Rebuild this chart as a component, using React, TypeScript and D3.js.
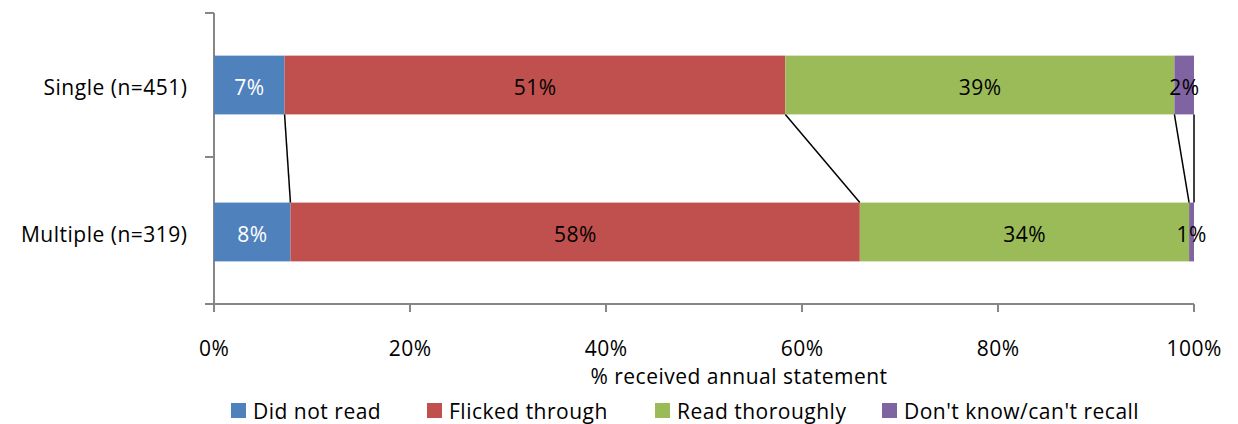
import React from "react";
import * as d3 from "d3";

const categories = ["Single (n=451)", "Multiple (n=319)"];
const seriesNames = ["Did not read", "Flicked through", "Read thoroughly", "Don't know/can't recall"];
const seriesColors = ["#4f81bd", "#c0504d", "#9bbb59", "#8064a2"];
const single = [7.2, 51.1, 39.7, 2.0];
const multiple = [7.8, 58.1, 33.6, 0.5];
const singleLabels = ["7%", "51%", "39%", "2%"];
const multipleLabels = ["8%", "58%", "34%", "1%"];
const xTicks = [0, 20, 40, 60, 80, 100];
const xTitle = "% received annual statement";

const W = 1238, H = 424;
const FONT = "'Open Sans', Lato, sans-serif";
const FS = 21;
const LS = 0.5;

export default function App() {
  const x = d3.scaleLinear().domain([0, 100]).range([214, 1194]);
  const y = d3.scaleBand().domain(categories).range([13, 304]).paddingInner(0.6).paddingOuter(0.29);
  const data = [single, multiple];
  const labels = [singleLabels, multipleLabels];
  const stacks = data.map((vals) => {
    let c = 0;
    return vals.map((v) => { const s = c; c += v; return [s, c]; });
  });
  const bw = y.bandwidth();
  const boundaries = [0, 1, 2, 3];
  const txt = { fontFamily: FONT, fontSize: FS, letterSpacing: LS } as const;
  return (
    <svg width={W} height={H} style={{ position: "absolute", left: 0, top: 0, background: "#fff" }}>
      <line x1={214} x2={214} y1={13} y2={304} stroke="#868686" strokeWidth={2} />
      {[13, 157, 304].map((t, i) => (
        <line key={i} x1={205} x2={214} y1={t} y2={t} stroke="#868686" strokeWidth={2} />
      ))}
      <line x1={214} x2={x(100)} y1={304} y2={304} stroke="#868686" strokeWidth={2} />
      {xTicks.map((t) => (
        <g key={t}>
          <line x1={x(t)} x2={x(t)} y1={304} y2={312} stroke="#868686" strokeWidth={2} />
          <text x={x(t) + LS / 2} y={356} textAnchor="middle" {...txt} fill="#000">{t}%</text>
        </g>
      ))}
      <text x={739} y={384} textAnchor="middle" {...txt}>{xTitle}</text>
      {categories.map((c) => (
        <text key={c} x={187 + LS} y={(y(c) as number) + bw / 2 + 10} textAnchor="end" {...txt}>{c}</text>
      ))}
      {categories.map((c, ci) => (
        <g key={c}>
          {stacks[ci].map(([s, e], si) => (
            <rect key={si} x={x(s)} y={y(c)} width={x(e) - x(s)} height={bw} fill={seriesColors[si]} />
          ))}
          {stacks[ci].map(([s, e], si) => (
            <text key={"l" + si} x={(x(s) + x(e)) / 2 + LS / 2} y={(y(c) as number) + bw / 2 + 10} textAnchor="middle"
              {...txt} fill={si === 0 ? "#fff" : "#000"}>{labels[ci][si]}</text>
          ))}
        </g>
      ))}
      {boundaries.map((b) => (
        <line key={b} x1={x(stacks[0][b][1])} y1={(y(categories[0]) as number) + bw}
          x2={x(stacks[1][b][1])} y2={y(categories[1]) as number} stroke="#000" strokeWidth={1.5} />
      ))}
      {[231, 427, 655, 882].map((lx, i) => (
        <g key={i}>
          <rect x={lx} y={403} width={15} height={15} fill={seriesColors[i]} />
          <text x={lx + 22} y={419} {...txt}>{seriesNames[i]}</text>
        </g>
      ))}
    </svg>
  );
}
